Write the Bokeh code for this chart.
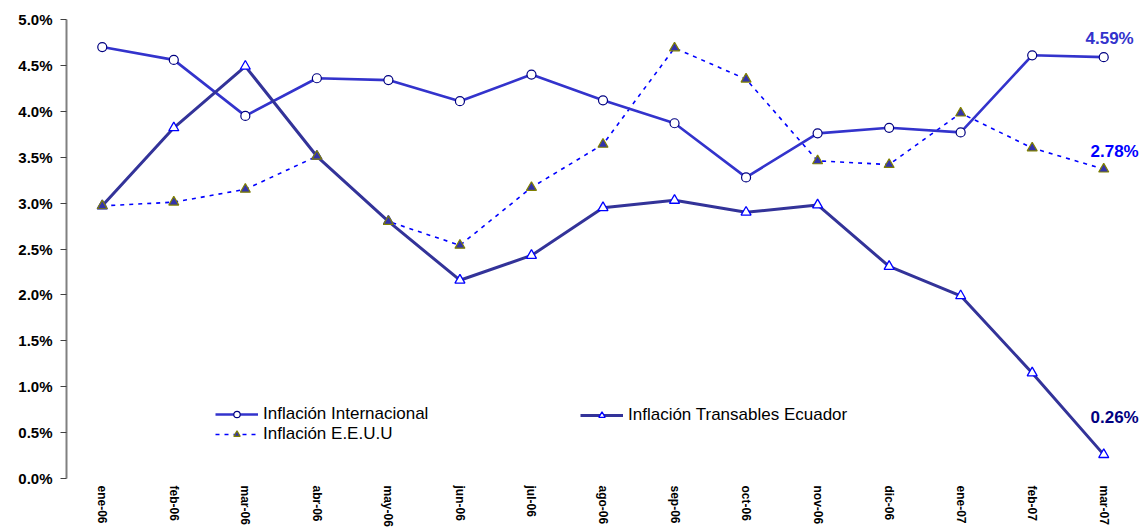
from bokeh.plotting import figure
from bokeh.models import (FactorRange, FixedTicker, NumeralTickFormatter, Legend,
                          LegendItem, ColumnDataSource, Range1d)
from bokeh.core.properties import value
from bokeh.embed import file_html
from bokeh.resources import INLINE

months = ["ene-06", "feb-06", "mar-06", "abr-06", "may-06", "jun-06", "jul-06",
          "ago-06", "sep-06", "oct-06", "nov-06", "dic-06", "ene-07", "feb-07", "mar-07"]

internacional = [0.0470, 0.0456, 0.0395, 0.0436, 0.0434, 0.0411, 0.0440, 0.0412,
                 0.0387, 0.0328, 0.0376, 0.0382, 0.0377, 0.0461, 0.0459]
transables = [0.0297, 0.0382, 0.0449, 0.0351, 0.0280, 0.0216, 0.0243, 0.0295,
              0.0303, 0.0290, 0.0298, 0.0231, 0.0199, 0.0115, 0.0026]
eeuu = [0.0297, 0.0301, 0.0315, 0.0351, 0.0280, 0.0254, 0.0317, 0.0364,
        0.0469, 0.0435, 0.0346, 0.0342, 0.0398, 0.0360, 0.0337]

y_ticks = [0.0, 0.005, 0.01, 0.015, 0.02, 0.025, 0.03, 0.035, 0.04, 0.045, 0.05]

end_labels = ["4.59%", "2.78%", "0.26%"]

FONT = "Liberation Sans"

src = ColumnDataSource(dict(m=months, a=internacional, b=transables, c=eeuu))

p = figure(width=1140, height=529, x_range=FactorRange(*months),
           y_range=Range1d(0, 0.05), output_backend="svg", toolbar_location=None,
           min_border_left=66, min_border_top=19, min_border_bottom=40,
           min_border_right=1)
p.outline_line_color = None
p.xgrid.grid_line_color = None
p.ygrid.grid_line_color = None
p.background_fill_color = "white"
p.border_fill_color = "white"

# y axis
p.yaxis.ticker = FixedTicker(ticks=y_ticks)
p.yaxis.formatter = NumeralTickFormatter(format="0.0%")
p.yaxis.axis_line_color = "#808080"
p.yaxis.axis_line_width = 2
p.yaxis.major_tick_line_color = "#404040"
p.yaxis.major_tick_out = 6
p.yaxis.major_tick_in = 0
p.yaxis.minor_tick_line_color = None
p.yaxis.minor_tick_out = 0
p.yaxis.minor_tick_in = 0
p.yaxis.major_label_standoff = 8
p.yaxis.major_label_text_font = FONT
p.yaxis.major_label_text_font_style = "bold"
p.yaxis.major_label_text_font_size = "15px"
p.yaxis.major_label_text_color = "black"

# x axis
p.xaxis.axis_line_color = None
p.xaxis.major_tick_line_color = None
p.xaxis.minor_tick_line_color = None
p.xaxis.major_tick_out = 0
p.xaxis.major_tick_in = 0
p.xaxis.minor_tick_out = 0
p.xaxis.minor_tick_in = 0
p.xaxis.axis_label_standoff = 0
p.xaxis.major_label_orientation = "vertical"
p.xaxis.major_label_standoff = 7
p.xaxis.major_label_text_font = FONT
p.xaxis.major_label_text_font_style = "bold"
p.xaxis.major_label_text_font_size = "12px"
p.xaxis.major_label_text_color = "black"

# lines
l_c = p.line("m", "c", source=src, line_color="#0000FF", line_width=1.6, line_dash="4 5")
l_a = p.line("m", "a", source=src, line_color="#3333CC", line_width=2.6)
l_b = p.line("m", "b", source=src, line_color="#333399", line_width=3)

# markers
m_a = p.scatter("m", "a", source=src, marker="circle", size=9, fill_color="white",
                line_color="#000080", line_width=1.2)
m_b = p.scatter("m", "b", source=src, marker="triangle", size=10, fill_color="white",
                line_color="#0000FF", line_width=1.3)
m_c = p.scatter("m", "c", source=src, marker="triangle", size=10, fill_color="#3333AA",
                line_color="#808000", line_width=1.2)

# end labels anchored to last points
last = months[-1]
p.text(x=[last], y=[internacional[-1]], text=[end_labels[0]], text_align="right",
       text_baseline="middle", x_offset=30, y_offset=-19, text_color="#3333CC",
       text_font=value(FONT), text_font_style="bold", text_font_size="17px")
p.text(x=[last], y=[eeuu[-1]], text=[end_labels[1]], text_align="right",
       text_baseline="middle", x_offset=35, y_offset=-18, text_color="#0000FF",
       text_font=value(FONT), text_font_style="bold", text_font_size="17px")
p.text(x=[last], y=[transables[-1]], text=[end_labels[2]], text_align="right",
       text_baseline="middle", x_offset=35, y_offset=-37, text_color="#000080",
       text_font=value(FONT), text_font_style="bold", text_font_size="17px")

def make_legend(items, loc):
    lg = Legend(items=items, location=loc, padding=0, margin=0, spacing=0,
                glyph_width=43, glyph_height=16, label_height=16, label_standoff=5,
                border_line_color=None, background_fill_alpha=0,
                label_text_font=FONT, label_text_font_size="17px",
                label_text_color="black")
    return lg

leg1 = make_legend([LegendItem(label="Inflación Internacional", renderers=[l_a, m_a]),
                    LegendItem(label="Inflación E.E.U.U", renderers=[l_c, m_c])], (149, 34))
leg2 = make_legend([LegendItem(label="Inflación Transables Ecuador", renderers=[l_b, m_b])], (514, 53))
p.add_layout(leg1)
p.add_layout(leg2)

open("out.html", "w").write(file_html(p, INLINE))
